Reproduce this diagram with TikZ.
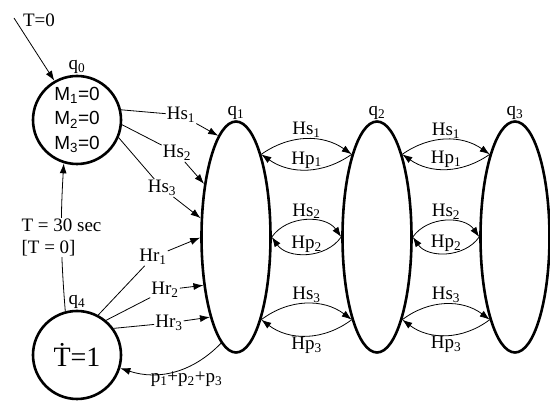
\documentclass[tikz,border=0pt]{standalone}
\usepackage{fontspec}
\setmainfont{Liberation Serif}
\setsansfont{Liberation Sans}
\usetikzlibrary{shapes.geometric,arrows.meta}

\tikzset{
  cstate/.style={draw, line width=2.6pt, circle, minimum size=88pt, inner sep=0pt},
  estate/.style={draw, line width=2.6pt, ellipse, minimum width=69pt, minimum height=231pt, inner sep=0pt},
  arr/.style={line width=0.8pt, -{Latex[length=10pt,width=7pt]}},
  wire/.style={line width=0.8pt},
  lab/.style={fill=white, inner sep=1pt},
  qlab/.style={inner sep=0.5pt},
}

\begin{document}
\begin{tikzpicture}[x=1pt,y=1pt,font=\fontsize{19}{22}\selectfont]
    \useasboundingbox (0,0) rectangle (550,401);
    % locations
    \node[cstate, label={[qlab]above:q\textsubscript{0}}, align=center,
          font=\sffamily\fontsize{19}{24.5}\selectfont] (q0) at (77,281)
        {M\textsubscript{1}=0\\M\textsubscript{2}=0\\M\textsubscript{3}=0};
    \node[cstate, label={[qlab]above:q\textsubscript{4}}, font=\fontsize{28}{30}\selectfont] (q4) at (77,46) {\.{T}=1};
    \node[estate, label={[qlab]above:q\textsubscript{1}}] (q1) at (236,164) {};
    \node[estate, label={[qlab]above:q\textsubscript{2}}] (q2) at (377,164) {};
    \node[estate, label={[qlab]above:q\textsubscript{3}}] (q3) at (515,164) {};

    % initial
    \coordinate (init) at (14,383);
    \node (t0) at (39,381) {T=0};
    \draw[arr] (init) -- (q0.120);

    % q0 -> q1
    \node[lab] (hs1) at (181,286) {Hs\textsubscript{1}};
    \node[lab] (hs2) at (177,248) {Hs\textsubscript{2}};
    \node[lab] (hs3) at (162,213) {Hs\textsubscript{3}};
    \draw[wire] (q0.13) -- (hs1);
    \draw[wire] (q0.-6) -- (hs2);
    \draw[wire] (q0.-23) -- (hs3);
    \draw[arr] (hs1) -- (q1.100);
    \draw[arr] (hs2) -- (q1.121);
    \draw[arr] (hs3) -- (q1.152);

    % q4 -> q1
    \node[lab] (hr1) at (153,144) {Hr\textsubscript{1}};
    \node[lab] (hr2) at (165,111) {Hr\textsubscript{2}};
    \node[lab] (hr3) at (169,78) {Hr\textsubscript{3}};
    \draw[wire] (q4.62) -- (hr1);
    \draw[wire] (q4.50) -- (hr2);
    \draw[wire] (q4.36) -- (hr3);
    \draw[arr] (hr1) -- (q1.181);
    \draw[arr] (hr2) -- (q1.236);
    \draw[arr] (hr3) -- (q1.252);

    % reset and return
    \draw[arr] (q4.105) to[bend left=4]
        node[lab, align=left] {T = 30 sec\\{[T = 0]}} (q0.253);
    \draw[arr] (q1.262) to[bend left=32]
        node[below, pos=0.38, inner sep=4pt] {p\textsubscript{1}+p\textsubscript{2}+p\textsubscript{3}} (q4.-17);

    % between modes
    \foreach \a/\b in {q1/q2, q2/q3} {
        \draw[arr] (\a.73) to[bend left=35] node[above, inner sep=1pt] {Hs\textsubscript{1}} (\b.107);
        \draw[arr] (\b.107) to[bend left=35] node[above, inner sep=1pt] {Hp\textsubscript{1}} (\a.73);
        \draw[arr] (\a.0) to[bend left=55] node[above, inner sep=1pt] {Hs\textsubscript{2}} (\b.180);
        \draw[arr] (\b.180) to[bend left=55] node[above, inner sep=1pt] {Hp\textsubscript{2}} (\a.0);
        \draw[arr] (\a.287) to[bend left=37] node[above, inner sep=1pt] {Hs\textsubscript{3}} (\b.253);
        \draw[arr] (\b.253) to[bend left=37] node[below, inner sep=1pt] {Hp\textsubscript{3}} (\a.287);
    }
\end{tikzpicture}
\end{document}
